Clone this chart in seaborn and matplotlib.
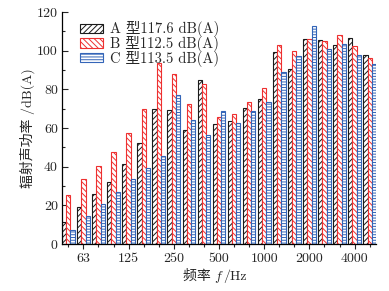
import numpy as np
import pandas as pd
import matplotlib
matplotlib.use("Agg")
import matplotlib.pyplot as plt
import seaborn as sns
from matplotlib.patches import Patch
from matplotlib.offsetbox import TextArea, HPacker, AnchoredOffsetbox

freqs = ['50', '63', '80', '100', '125', '160', '200', '250', '315', '400', '500',
         '630', '800', '1000', '1250', '1600', '2000', '2500', '3150', '4000', '5000']
series_a = [11.3, 19.0, 25.8, 32.2, 41.6, 52.1, 69.8, 69.3, 59.0, 84.8, 62.1,
            63.8, 70.2, 75.0, 99.2, 90.5, 106.0, 105.3, 102.9, 106.4, 97.8]
series_b = [25.3, 33.5, 40.3, 47.4, 57.6, 69.8, 93.6, 87.9, 72.3, 82.8, 65.7,
            67.1, 73.6, 80.5, 102.9, 99.6, 105.9, 104.8, 108.1, 102.4, 96.0]
series_c = [7.2, 14.7, 20.9, 26.7, 33.8, 39.2, 45.6, 77.1, 64.1, 56.4, 68.8,
            62.4, 68.8, 73.6, 88.8, 97.3, 112.8, 100.8, 103.5, 97.8, 93.1]
series_names = ['A 型117.6 dB(A)', 'B 型112.5 dB(A)', 'C 型113.5 dB(A)']
shown_ticks = ['63', '125', '250', '500', '1000', '2000', '4000']

colors = ['#1a1a1a', '#ee3030', '#3465b8']
hatches = ['//////', '\\\\\\\\\\\\', '------']

df = pd.DataFrame({
    'freq': freqs * 3,
    'value': series_a + series_b + series_c,
    'series': [series_names[0]] * len(freqs) + [series_names[1]] * len(freqs) + [series_names[2]] * len(freqs),
})

sns.set_theme(style='ticks')
plt.rcParams['font.family'] = ['cmr10', 'Noto Sans CJK SC']
plt.rcParams['mathtext.fontset'] = 'cm'
plt.rcParams['hatch.linewidth'] = 0.7
plt.rcParams['axes.unicode_minus'] = False

fig = plt.figure(figsize=(3.89, 2.91), dpi=100)
ax = fig.add_axes([62 / 389, 1 - 244 / 291, 314 / 389, 232 / 291])

sns.barplot(data=df, x='freq', y='value', hue='series', order=freqs,
            hue_order=series_names, palette=colors, width=0.84, gap=0,
            legend=False, ax=ax)

for cont, col, h in zip(ax.containers, colors, hatches):
    for p in cont.patches:
        p.set_facecolor('white')
        p.set_edgecolor(col)
        p.set_hatch(h)
        p.set_linewidth(0.8)

ax.set_xlim(-0.42, 20.42)
ax.set_ylim(0, 120)
ax.set_yticks(np.arange(0, 121, 20))
ax.set_yticks(np.arange(0, 121, 10), minor=True)
major_pos = [freqs.index(t) for t in shown_ticks]
ax.set_xticks(major_pos)
ax.set_xticklabels(shown_ticks)
ax.set_xticks([i for i in range(len(freqs)) if i not in major_pos], minor=True)
ax.tick_params(axis='y', which='major', direction='in', length=4, width=0.8, labelsize=10, pad=3)
ax.tick_params(axis='y', which='minor', direction='in', length=2.5, width=0.8)
ax.tick_params(axis='x', which='major', direction='out', length=3.5, width=0.8, labelsize=10, pad=3)
ax.tick_params(axis='x', which='minor', direction='out', length=2.5, width=0.8)
for s in ['top', 'right']:
    ax.spines[s].set_visible(False)
for s in ['left', 'bottom']:
    ax.spines[s].set_linewidth(0.9)
    ax.spines[s].set_color('black')

ax.set_xlabel('')
ax.set_ylabel('辐射声功率 /dB(A)', fontsize=10, labelpad=1)

parts = [TextArea('频率 ', textprops=dict(family=['Noto Sans CJK SC'], size=10)),
         TextArea('$f$', textprops=dict(size=10)),
         TextArea('/Hz', textprops=dict(family=['cmr10'], size=10))]
box = HPacker(children=parts, align='baseline', pad=0, sep=0)
anch = AnchoredOffsetbox(loc='center', child=box, frameon=False,
                         bbox_to_anchor=(215 / 389, 1 - 277 / 291),
                         bbox_transform=fig.transFigure, pad=0, borderpad=0)
fig.add_artist(anch)

handles = [Patch(facecolor='white', edgecolor=c, hatch=h, linewidth=0.8) for c, h in zip(colors, hatches)]
ax.legend(handles, series_names, loc='upper left', bbox_to_anchor=(0.057, 0.96),
          frameon=False, fontsize=10.5, handlelength=1.6, handleheight=0.6,
          handletextpad=0.45, labelspacing=-0.08, borderpad=0, borderaxespad=0)

fig.savefig('out.png', dpi=100)
